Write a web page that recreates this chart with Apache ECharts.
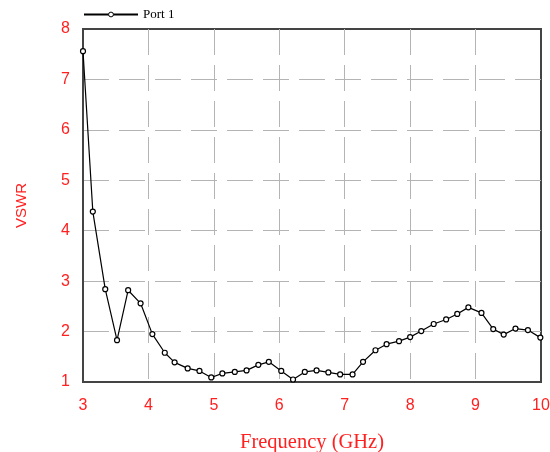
<!DOCTYPE html>
<html>
<head>
<meta charset="utf-8">
<script src="https://cdn.jsdelivr.net/npm/echarts@6/dist/echarts.min.js"></script>
<style>html,body{margin:0;padding:0;background:#fff}#c{width:550px;height:452px}</style>
</head>
<body>
<div id="c"></div>
<script>
const seriesName = 'Port 1';
const freqGHz = [3.00, 3.15, 3.34, 3.52, 3.69, 3.88, 4.06, 4.25, 4.40, 4.60,
  4.78, 4.96, 5.13, 5.32, 5.50, 5.68, 5.84, 6.03, 6.21, 6.39,
  6.57, 6.75, 6.93, 7.12, 7.28, 7.47, 7.64, 7.83, 8.00, 8.17,
  8.36, 8.55, 8.72, 8.89, 9.09, 9.27, 9.43, 9.61, 9.80, 9.99];
const vswr = [7.56, 4.38, 2.84, 1.83, 2.82, 2.56, 1.95, 1.58, 1.39, 1.27,
  1.22, 1.09, 1.17, 1.20, 1.23, 1.34, 1.40, 1.22, 1.05, 1.20,
  1.23, 1.19, 1.15, 1.15, 1.40, 1.63, 1.75, 1.81, 1.89, 2.01,
  2.15, 2.24, 2.35, 2.48, 2.37, 2.05, 1.94, 2.06, 2.03, 1.88];
const xTicks = [3, 4, 5, 6, 7, 8, 9, 10];
const yTicks = [1, 2, 3, 4, 5, 6, 7, 8];

const chart = echarts.init(document.getElementById('c'), null, {renderer: 'canvas'});
const gridLine = {show: true, showMinLine: false, showMaxLine: false, lineStyle: {color: '#b4b4b4', width: 1, type: [26, 10]}};
const labelFont = {color: '#ff2020', fontFamily: 'Liberation Sans Narrow, Arial Narrow, sans-serif', fontSize: 16};
chart.setOption({
  animation: false,
  backgroundColor: '#fff',
  grid: {left: 83, top: 29, right: 9, bottom: 70, containLabel: false, outerBoundsMode: 'none',
    show: true, borderColor: '#444', borderWidth: 2, backgroundColor: 'transparent'},
  legend: {
    left: 83, top: 8, padding: 0, itemWidth: 54, itemHeight: 6, itemGap: 9,
    data: [{name: seriesName, itemStyle: {borderWidth: 1}}],
    textStyle: {color: '#000', fontFamily: 'Liberation Serif, Times New Roman, serif', fontSize: 13}
  },
  xAxis: {
    type: 'value', min: xTicks[0], max: xTicks[xTicks.length - 1], interval: 1,
    name: 'Frequency (GHz)', nameLocation: 'middle', nameGap: 50, nameMoveOverlap: false,
    nameTextStyle: {color: '#ff2020', fontFamily: 'Liberation Serif, Times New Roman, serif', fontSize: 20.5},
    axisLine: {show: true, lineStyle: {color: '#444', width: 2}},
    axisTick: {show: false},
    axisLabel: Object.assign({margin: 16}, labelFont),
    splitLine: gridLine
  },
  yAxis: {
    type: 'value', min: yTicks[0], max: yTicks[yTicks.length - 1], interval: 1,
    name: 'VSWR', nameLocation: 'middle', nameRotate: 90, nameGap: 54, nameMoveOverlap: false,
    nameTextStyle: {color: '#ff2020', fontFamily: 'Liberation Sans, Arial, sans-serif', fontSize: 15},
    axisLine: {show: true, lineStyle: {color: '#444', width: 2}},
    axisTick: {show: false},
    axisLabel: Object.assign({margin: 13}, labelFont),
    splitLine: gridLine
  },
  series: [{
    name: seriesName,
    type: 'line',
    data: freqGHz.map((f, i) => [f, vswr[i]]),
    symbol: 'circle', symbolSize: 5, showAllSymbol: true,
    lineStyle: {color: '#000', width: 1.2},
    itemStyle: {color: '#fff', borderColor: '#000', borderWidth: 1.2},
    clip: false
  }]
});
</script>
</body>
</html>
